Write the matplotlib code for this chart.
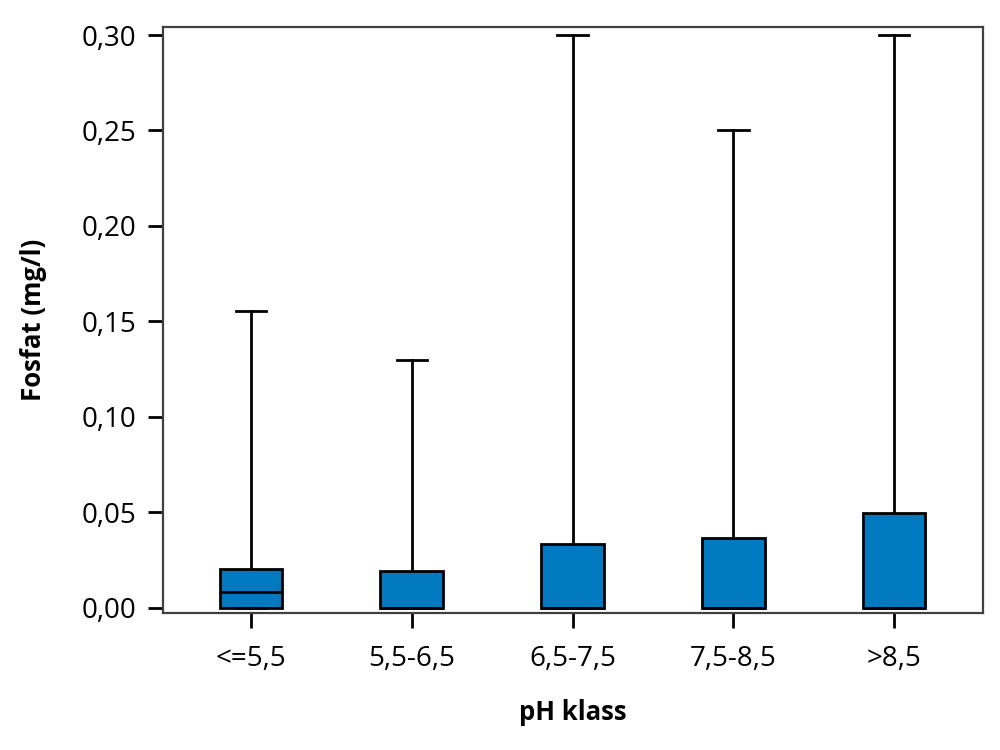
import matplotlib
matplotlib.use("Agg")
from matplotlib import pyplot as plt

# pH classes and phosphate box statistics (mg/l)
categories = ['<=5,5', '5,5-6,5', '6,5-7,5', '7,5-8,5', '>8,5']
q1 = [0.0, 0.0, 0.0, 0.0, 0.0]
medians = [0.0085, 0.0, 0.0, 0.0, 0.0]
q3 = [0.0205, 0.0195, 0.0335, 0.0365, 0.0497]
whislo = [0.0, 0.0, 0.0, 0.0, 0.0]
whishi = [0.1555, 0.130, 0.300, 0.250, 0.300]
yticks = [0.0, 0.05, 0.10, 0.15, 0.20, 0.25, 0.30]

plt.rcParams['font.family'] = ['Open Sans', 'DejaVu Sans']

stats = []
for i, cat in enumerate(categories):
    stats.append({'label': cat, 'q1': q1[i], 'med': medians[i], 'q3': q3[i],
                  'whislo': whislo[i], 'whishi': whishi[i], 'fliers': []})

fig = plt.figure(figsize=(10, 7.5), dpi=100)
ax = fig.add_axes([0.163, 0.183, 0.82, 0.781])

ax.bxp(stats, positions=range(1, 6), widths=0.39, patch_artist=True,
       showfliers=False,
       boxprops=dict(facecolor='#0079C1', edgecolor='black', linewidth=2),
       medianprops=dict(color='black', linewidth=2),
       whiskerprops=dict(color='black', linewidth=2),
       capprops=dict(color='black', linewidth=2),
       capwidths=0.19)

ax.set_xlim(0.452, 5.554)
ax.set_ylim(-0.0026, 0.3042)
ax.set_yticks(yticks)
ax.set_yticklabels([f'{v:.2f}'.replace('.', ',') for v in yticks])
ax.set_xticks(range(1, 6))
ax.set_xticklabels(categories)

ax.tick_params(axis='both', length=11, width=2, labelsize=20, direction='out')
ax.tick_params(axis='x', pad=12)
ax.tick_params(axis='y', pad=8)
for s in ax.spines.values():
    s.set_color('#404040')
    s.set_linewidth(1.6)

ax.set_xlabel('pH klass', fontsize=18.5, fontweight='bold')
ax.set_ylabel('Fosfat (mg/l)', fontsize=18.5, fontweight='bold')
ax.xaxis.set_label_coords(0.5, -0.148)
ax.yaxis.set_label_coords(-0.141, 0.5)

fig.savefig('out.png', dpi=100)
